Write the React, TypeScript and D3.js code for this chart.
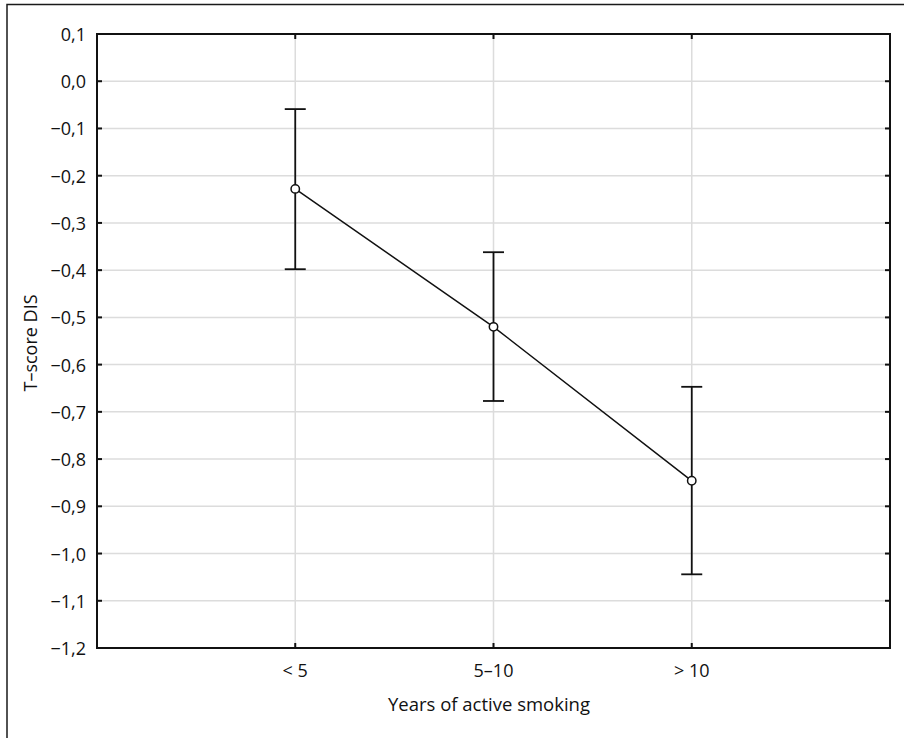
import React from "react";
import * as d3 from "d3";

const categories = ["< 5", "5–10", "> 10"];
const means = [-0.228, -0.52, -0.846];
const upper = [-0.059, -0.362, -0.647];
const lower = [-0.398, -0.677, -1.044];
const yTicks = [0.1, 0.0, -0.1, -0.2, -0.3, -0.4, -0.5, -0.6, -0.7, -0.8, -0.9, -1.0, -1.1, -1.2];

const W = 904;
const H = 738;
const left = 97;
const right = 890;
const top = 34;
const bottom = 648;
const font = "'Open Sans', 'Noto Sans', sans-serif";

export default function App() {
  const x = d3.scaleLinear().domain([0, categories.length + 1]).range([left, right]);
  const y = d3.scaleLinear().domain([-1.2, 0.1]).range([bottom, top]);
  const fmt = (v: number) => {
    const s = Math.abs(v).toFixed(1).replace(".", ",");
    return (v < -1e-9 ? "\u2212" : "") + s;
  };
  const line = d3
    .line<number>()
    .x((_, i) => x(i + 1))
    .y((d) => y(d));
  const tickLen = 5;
  const cap = 10.5;

  return (
    <svg
      width={W}
      height={H}
      style={{ position: "absolute", left: 0, top: 0, background: "#fff" }}
    >
      <rect x={0} y={0} width={W} height={H} fill="#fff" />
      <rect x={7} y={4.5} width={1200} height={1200} fill="none" stroke="#1a1a1a" strokeWidth={1.5} />
      {/* grid */}
      {yTicks.slice(1, -1).map((t) => (
        <line key={"gy" + t} x1={left} x2={right} y1={y(t)} y2={y(t)} stroke="#dcdcdc" strokeWidth={1.5} />
      ))}
      {categories.map((c, i) => (
        <line key={"gx" + c} x1={x(i + 1)} x2={x(i + 1)} y1={top} y2={bottom} stroke="#dcdcdc" strokeWidth={1.5} />
      ))}
      {/* ticks */}
      {yTicks.map((t) => (
        <g key={"t" + t}>
          <line x1={left} x2={left + tickLen} y1={y(t)} y2={y(t)} stroke="#111" strokeWidth={2} />
          <line x1={right} x2={right - tickLen} y1={y(t)} y2={y(t)} stroke="#111" strokeWidth={2} />
          <text
            x={86}
            y={y(t) + 7}
            textAnchor="end"
            fontFamily={font}
            fontSize={18}
            fill="#111"
          >
            {fmt(t)}
          </text>
        </g>
      ))}
      {categories.map((c, i) => (
        <g key={"c" + c}>
          <line x1={x(i + 1)} x2={x(i + 1)} y1={bottom} y2={bottom - tickLen} stroke="#111" strokeWidth={2} />
          <line x1={x(i + 1)} x2={x(i + 1)} y1={top} y2={top + tickLen} stroke="#111" strokeWidth={2} />
          <text
            x={x(i + 1)}
            y={677}
            textAnchor="middle"
            fontFamily={font}
            fontSize={18}
            fill="#111"
          >
            {c}
          </text>
        </g>
      ))}
      {/* frame */}
      <rect x={left} y={top} width={right - left} height={bottom - top} fill="none" stroke="#111" strokeWidth={2} />
      {/* error bars */}
      {categories.map((c, i) => (
        <g key={"e" + c} stroke="#111" strokeWidth={1.8}>
          <line x1={x(i + 1)} x2={x(i + 1)} y1={y(upper[i])} y2={y(lower[i])} />
          <line x1={x(i + 1) - cap} x2={x(i + 1) + cap} y1={y(upper[i])} y2={y(upper[i])} />
          <line x1={x(i + 1) - cap} x2={x(i + 1) + cap} y1={y(lower[i])} y2={y(lower[i])} />
        </g>
      ))}
      <path d={line(means) || ""} fill="none" stroke="#111" strokeWidth={1.5} />
      {means.map((m, i) => (
        <circle key={"m" + i} cx={x(i + 1)} cy={y(m)} r={4.2} fill="#fff" stroke="#111" strokeWidth={1.5} />
      ))}
      <text
        x={489}
        y={711}
        textAnchor="middle"
        fontFamily={font}
        fontSize={18.5}
        fill="#111"
      >
        Years of active smoking
      </text>
      <text
        transform={`translate(36.5, ${343}) rotate(-90)`}
        textAnchor="middle"
        fontFamily={font}
        fontSize={18}
        fill="#111"
      >
        T–score DIS
      </text>
    </svg>
  );
}
